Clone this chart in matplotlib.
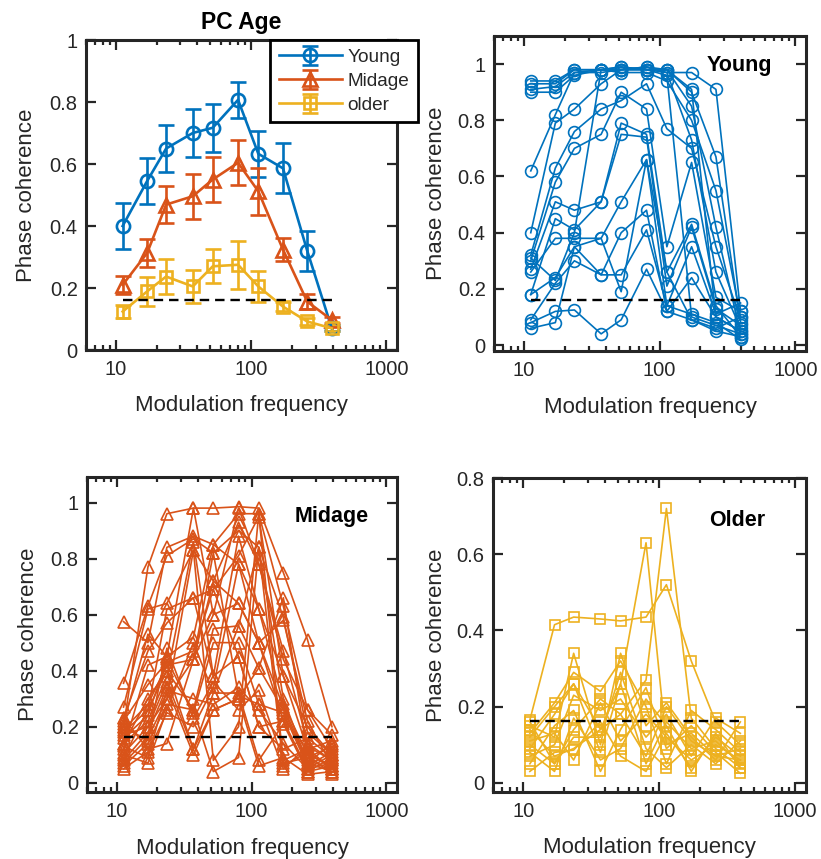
import numpy as np
import matplotlib
matplotlib.use("Agg")
import matplotlib.pyplot as plt
from matplotlib.ticker import FixedLocator, FuncFormatter, LogLocator, NullFormatter

plt.rcParams['font.family'] = ['Liberation Sans', 'DejaVu Sans']

# ---------------- data ----------------
freqs = [11.2, 17, 23.5, 37, 52, 80, 113, 172, 260, 395]
chance_level = 0.162

group_names = ["Young", "Midage", "older"]
mean_young = [0.40, 0.545, 0.65, 0.70, 0.717, 0.807, 0.633, 0.586, 0.320, 0.07]
err_young = [0.074, 0.075, 0.075, 0.078, 0.077, 0.058, 0.074, 0.081, 0.064, 0.01]
mean_midage = [0.21, 0.313, 0.469, 0.496, 0.55, 0.604, 0.512, 0.324, 0.156, 0.097]
err_midage = [0.03, 0.046, 0.06, 0.073, 0.074, 0.073, 0.075, 0.036, 0.024, 0.01]
mean_older = [0.124, 0.189, 0.237, 0.205, 0.27, 0.275, 0.205, 0.14, 0.092, 0.07]
err_older = [0.02, 0.048, 0.055, 0.054, 0.055, 0.077, 0.05, 0.015, 0.012, 0.01]

young_curves = [
    [0.94, 0.94, 0.98, 0.98, 0.99, 0.98, 0.97, 0.97, 0.91, 0.12],
    [0.93, 0.93, 0.98, 0.98, 0.98, 0.99, 0.98, 0.91, 0.10, 0.05],
    [0.91, 0.92, 0.97, 0.97, 0.98, 0.98, 0.96, 0.10, 0.07, 0.04],
    [0.90, 0.90, 0.96, 0.98, 0.97, 0.97, 0.94, 0.80, 0.55, 0.10],
    [0.62, 0.82, 0.97, 0.98, 0.99, 0.98, 0.98, 0.90, 0.67, 0.08],
    [0.40, 0.79, 0.84, 0.93, 0.98, 0.99, 0.97, 0.73, 0.26, 0.06],
    [0.32, 0.63, 0.76, 0.84, 0.87, 0.93, 0.77, 0.70, 0.35, 0.09],
    [0.30, 0.58, 0.70, 0.75, 0.90, 0.84, 0.35, 0.65, 0.17, 0.12],
    [0.27, 0.51, 0.48, 0.51, 0.79, 0.75, 0.26, 0.43, 0.14, 0.03],
    [0.18, 0.45, 0.41, 0.51, 0.75, 0.74, 0.21, 0.42, 0.13, 0.07],
    [0.26, 0.38, 0.38, 0.38, 0.51, 0.66, 0.14, 0.35, 0.11, 0.15],
    [0.18, 0.24, 0.35, 0.25, 0.40, 0.48, 0.12, 0.24, 0.10, 0.05],
    [0.09, 0.22, 0.30, 0.25, 0.25, 0.41, 0.14, 0.11, 0.08, 0.02],
    [0.08, 0.12, 0.125, 0.04, 0.09, 0.27, 0.12, 0.09, 0.06, 0.10],
    [0.06, 0.08, 0.35, 0.38, 0.19, 0.66, 0.26, 0.09, 0.05, 0.03],
    [0.31, 0.23, 0.40, 0.98, 0.98, 0.98, 0.98, 0.85, 0.42, 0.04],
]

midage_curves = [
    [0.20, 0.77, 0.96, 0.98, 0.98, 0.985, 0.98, 0.75, 0.51, 0.20],
    [0.575, 0.50, 0.84, 0.88, 0.85, 0.96, 0.96, 0.63, 0.26, 0.12],
    [0.355, 0.63, 0.81, 0.87, 0.82, 0.90, 0.84, 0.59, 0.18, 0.10],
    [0.27, 0.62, 0.64, 0.83, 0.72, 0.93, 0.78, 0.47, 0.14, 0.08],
    [0.23, 0.47, 0.57, 0.66, 0.69, 0.81, 0.95, 0.38, 0.12, 0.15],
    [0.21, 0.53, 0.45, 0.52, 0.85, 0.78, 0.62, 0.28, 0.10, 0.06],
    [0.19, 0.28, 0.42, 0.44, 0.60, 0.64, 0.50, 0.27, 0.08, 0.05],
    [0.18, 0.26, 0.40, 0.26, 0.55, 0.56, 0.41, 0.26, 0.07, 0.04],
    [0.16, 0.24, 0.44, 0.25, 0.50, 0.50, 0.28, 0.25, 0.06, 0.11],
    [0.14, 0.22, 0.38, 0.86, 0.38, 0.45, 0.20, 0.22, 0.05, 0.07],
    [0.105, 0.20, 0.36, 0.12, 0.32, 0.32, 0.08, 0.21, 0.04, 0.09],
    [0.08, 0.18, 0.34, 0.10, 0.26, 0.30, 0.06, 0.09, 0.03, 0.04],
    [0.07, 0.16, 0.30, 0.83, 0.08, 0.20, 0.96, 0.07, 0.09, 0.13],
    [0.06, 0.14, 0.28, 0.26, 0.04, 0.09, 0.84, 0.06, 0.11, 0.05],
    [0.23, 0.12, 0.14, 0.44, 0.82, 0.31, 0.28, 0.05, 0.13, 0.08],
    [0.12, 0.42, 0.45, 0.98, 0.60, 0.98, 0.78, 0.44, 0.26, 0.17],
    [0.09, 0.26, 0.62, 0.66, 0.38, 0.88, 0.62, 0.38, 0.20, 0.10],
    [0.17, 0.20, 0.30, 0.44, 0.72, 0.64, 0.50, 0.58, 0.22, 0.06],
    [0.10, 0.07, 0.26, 0.50, 0.32, 0.56, 0.84, 0.30, 0.07, 0.14],
    [0.14, 0.30, 0.40, 0.12, 0.26, 0.30, 0.41, 0.66, 0.10, 0.03],
    [0.22, 0.35, 0.43, 0.47, 0.69, 0.45, 0.20, 0.12, 0.16, 0.09],
    [0.05, 0.11, 0.25, 0.20, 0.34, 0.78, 0.50, 0.22, 0.04, 0.06],
    [0.13, 0.09, 0.33, 0.30, 0.28, 0.34, 0.26, 0.14, 0.05, 0.10],
    [0.20, 0.15, 0.48, 0.23, 0.36, 0.26, 0.33, 0.08, 0.12, 0.05],
]

older_curves = [
    [0.165, 0.415, 0.435, 0.43, 0.425, 0.435, 0.52, 0.32, 0.16, 0.10],
    [0.12, 0.20, 0.26, 0.14, 0.26, 0.63, 0.10, 0.13, 0.07, 0.06],
    [0.10, 0.05, 0.14, 0.22, 0.18, 0.27, 0.72, 0.17, 0.09, 0.04],
    [0.15, 0.12, 0.34, 0.10, 0.34, 0.15, 0.21, 0.12, 0.06, 0.16],
    [0.13, 0.21, 0.29, 0.24, 0.32, 0.20, 0.05, 0.19, 0.14, 0.08],
    [0.09, 0.18, 0.26, 0.08, 0.26, 0.05, 0.16, 0.09, 0.11, 0.05],
    [0.07, 0.10, 0.23, 0.19, 0.22, 0.12, 0.18, 0.07, 0.17, 0.13],
    [0.05, 0.15, 0.19, 0.03, 0.14, 0.25, 0.09, 0.15, 0.08, 0.025],
    [0.03, 0.08, 0.086, 0.16, 0.07, 0.03, 0.13, 0.04, 0.12, 0.07],
    [0.16, 0.05, 0.12, 0.12, 0.29, 0.09, 0.04, 0.10, 0.05, 0.11],
    [0.11, 0.13, 0.06, 0.21, 0.11, 0.18, 0.12, 0.06, 0.10, 0.06],
    [0.08, 0.03, 0.17, 0.06, 0.09, 0.22, 0.15, 0.03, 0.13, 0.04],
    [0.14, 0.07, 0.09, 0.14, 0.18, 0.07, 0.20, 0.11, 0.07, 0.09],
]

# ---------------- style ----------------
C_Y = '#0072BD'
C_M = '#D95319'
C_O = '#EDB120'
AX_C = '#262626'
W, H = 821, 859

fig = plt.figure(figsize=(W / 100, H / 100), dpi=100)


def rect(l, r, t, b):
    return [l / W, 1 - b / H, (r - l) / W, (b - t) / H]


def style(ax, ylim, yticks, ylab_x):
    ax.set_xscale('log')
    ax.set_xlim(6, 1200)
    ax.set_ylim(*ylim)
    ax.xaxis.set_major_locator(FixedLocator([10, 100, 1000]))
    ax.xaxis.set_major_formatter(FuncFormatter(lambda v, p: f"{v:g}"))
    ax.xaxis.set_minor_locator(LogLocator(base=10, subs=np.arange(2, 10)))
    ax.xaxis.set_minor_formatter(NullFormatter())
    ax.yaxis.set_major_locator(FixedLocator(yticks))
    ax.yaxis.set_major_formatter(FuncFormatter(lambda v, p: f"{v:g}"))
    for s in ax.spines.values():
        s.set_linewidth(2.2)
        s.set_color(AX_C)
    ax.tick_params(which='both', direction='in', top=True, right=True,
                   colors=AX_C, labelsize=14.5, width=1.6)
    ax.tick_params(which='major', length=7)
    ax.tick_params(which='minor', length=3.5)
    ax.tick_params(axis='x', pad=7)
    ax.tick_params(axis='y', pad=6)
    ax.set_xlabel('Modulation frequency', fontsize=16, color=AX_C)
    ax.set_ylabel('Phase coherence', fontsize=16, color=AX_C)
    ax.xaxis.set_label_coords(0.5, -0.178)
    ax.xaxis.label.set_va('center')
    ax.yaxis.set_label_coords(ylab_x, 0.5)
    ax.yaxis.label.set_va('center')


def chance(ax):
    ax.plot([freqs[0], freqs[-1]], [chance_level, chance_level], color='black',
            lw=1.7, dashes=(4, 2.5), zorder=5)


# ---- panel 1 ----
ax1 = fig.add_axes(rect(86, 397, 40, 350))
style(ax1, (0, 1), [0, 0.2, 0.4, 0.6, 0.8, 1.0], -0.19)
chance(ax1)
hs = []
for mean, err, c, m, ms, name in [(mean_young, err_young, C_Y, 'o', 9.5, group_names[0]),
                                  (mean_midage, err_midage, C_M, '^', 10, group_names[1]),
                                  (mean_older, err_older, C_O, 's', 8.5, group_names[2])]:
    h = ax1.errorbar(freqs, mean, yerr=err, color=c, marker=m, ms=ms, mfc='none',
                     mew=1.9, lw=1.9, capsize=5.5, capthick=1.9, elinewidth=1.9, label=name)
    hs.append(h)
ax1.set_title('PC Age', fontsize=16.5, fontweight='bold', color='black', pad=8)
leg = ax1.legend(handles=hs, loc='upper right', bbox_to_anchor=(1.066, 1.0),
                 borderaxespad=0, fontsize=13.7, frameon=True, fancybox=False,
                 edgecolor='black', framealpha=1, handlelength=3.3,
                 handletextpad=0.3, labelspacing=0.35, borderpad=0.45)
leg.get_frame().set_linewidth(2.0)
leg.set_zorder(10)
for t in leg.get_texts():
    t.set_color(AX_C)

# ---- panel 2 ----
ax2 = fig.add_axes(rect(494, 806, 36, 351))
style(ax2, (-0.021, 1.10), [0, 0.2, 0.4, 0.6, 0.8, 1.0], -0.183)
for c in young_curves:
    ax2.plot(freqs, c, color=C_Y, marker='o', ms=8.5, mfc='none', mew=1.2, lw=1.2)
chance(ax2)
ax2.text(0.68, 0.905, 'Young', transform=ax2.transAxes, fontsize=15.5,
         fontweight='bold', va='center', ha='left', color='black')

# ---- panel 3 ----
ax3 = fig.add_axes(rect(87, 397, 477, 792))
style(ax3, (-0.033, 1.091), [0, 0.2, 0.4, 0.6, 0.8, 1.0], -0.19)
for c in midage_curves:
    ax3.plot(freqs, c, color=C_M, marker='^', ms=9, mfc='none', mew=1.2, lw=1.2)
chance(ax3)
ax3.text(0.67, 0.876, 'Midage', transform=ax3.transAxes, fontsize=15.5,
         fontweight='bold', va='center', ha='left', color='black')

# ---- panel 4 ----
ax4 = fig.add_axes(rect(493, 806, 478, 792))
style(ax4, (-0.024, 0.8), [0, 0.2, 0.4, 0.6, 0.8], -0.179)
for c in older_curves:
    ax4.plot(freqs, c, color=C_O, marker='s', ms=7.5, mfc='none', mew=1.2, lw=1.2)
chance(ax4)
ax4.text(0.69, 0.866, 'Older', transform=ax4.transAxes, fontsize=15.5,
         fontweight='bold', va='center', ha='left', color='black')

fig.savefig('out.png', dpi=100)
